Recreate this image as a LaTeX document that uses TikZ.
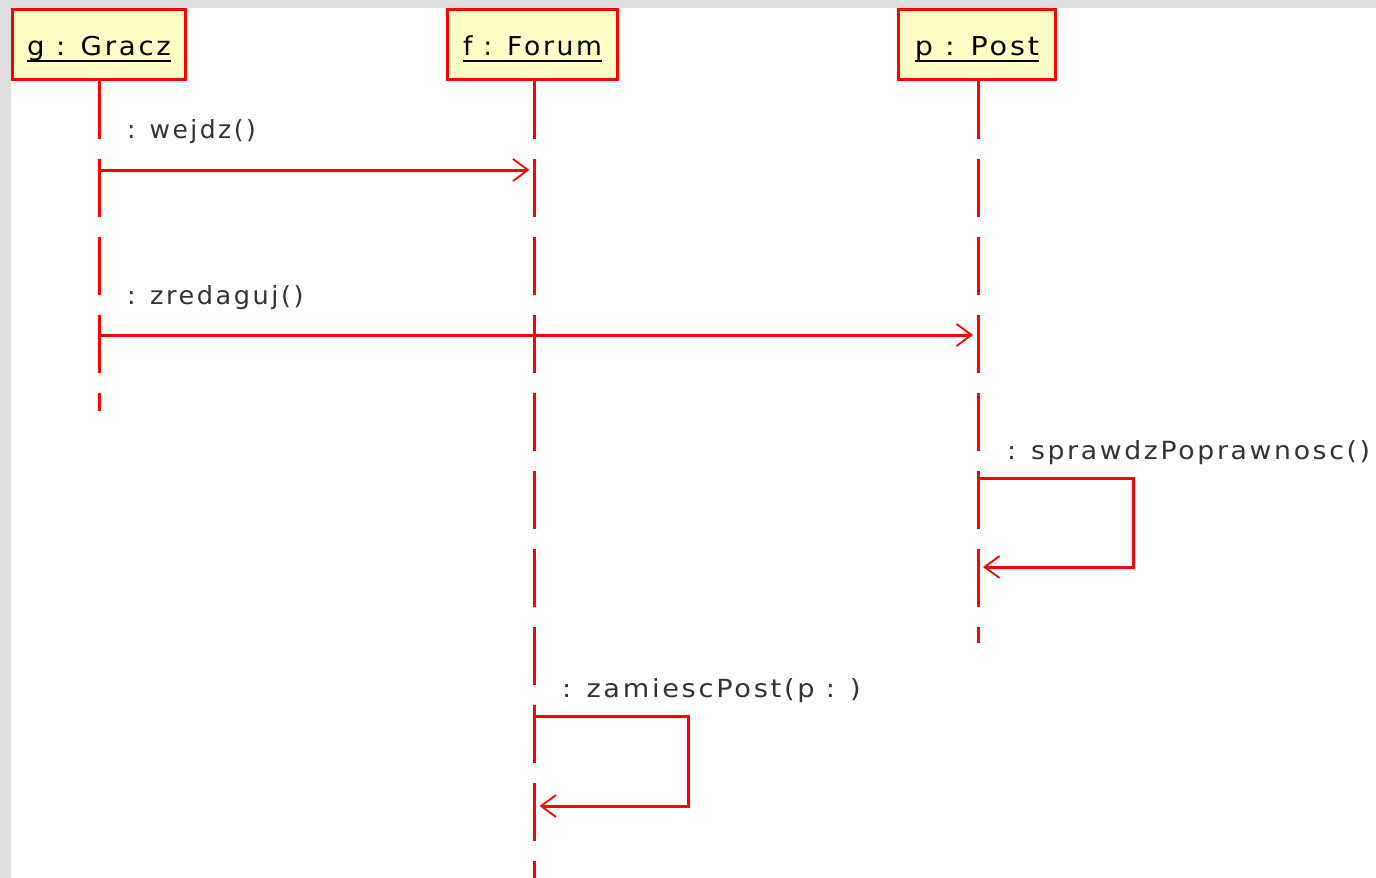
\documentclass[tikz,border=0pt]{standalone}
\usepackage{fontspec}
\setmainfont{DejaVu Sans}
\newfontfamily\umlfont[LetterSpace=10]{DejaVu Sans}
\usetikzlibrary{arrows.meta}
\definecolor{umlred}{RGB}{255,0,0}
\definecolor{umlfill}{RGB}{255,255,198}
\definecolor{umlgray}{RGB}{221,221,221}
\definecolor{umltext}{RGB}{51,51,51}
\newcommand\umlul[1]{\setbox0=\hbox{#1}\rlap{\rule[-7pt]{\wd0}{2.2pt}}\box0}
\begin{document}
\begin{tikzpicture}[x=1pt,y=-1pt,
  obj/.style={draw=umlred, line width=3.2pt, fill=umlfill, minimum height=70pt,
    inner sep=0pt, text height=25pt, text depth=4pt,
    font=\umlfont\fontsize{26}{30}\selectfont, text=black},
  life/.style={draw=umlred, line width=3pt, dash pattern=on 58pt off 20pt},
  msg/.style={draw=umlred, line width=3pt, shorten >=5pt,
    -{Straight Barb[length=15pt,width=22pt,line width=1.8pt]}},
  lbl/.style={anchor=base west, inner sep=0pt, text=umltext,
    font=\umlfont\fontsize{25}{30}\selectfont}]
\fill[umlgray] (0,0) rectangle (1376,878);
\fill[white] (11,8) rectangle (1376,878);
\useasboundingbox (0,0) rectangle (1376,878);
% objects
\node[obj, minimum width=173pt] (g) at (99,44.5) {\scalebox{1.06}[1]{\umlul{g : Gracz}}};
\node[obj, minimum width=170pt] (f) at (532.5,44.5) {\scalebox{1.02}[1]{\umlul{f : Forum}}};
\node[obj, minimum width=157pt] (p) at (977,44.5) {\scalebox{1.1}[1]{\umlul{p : Post}}};
% lifeline ends
\coordinate (gend) at (99,411);
\coordinate (fend) at (534.5,878);
\coordinate (pend) at (978,643);
\draw[life] (g.south) -- (gend);
\draw[life] ([xshift=2pt]f.south) -- (fend);
\draw[life] ([xshift=1pt]p.south) -- (pend);
% message points
\coordinate (m1g) at (99,170);
\coordinate (m1f) at (534.5,170);
\coordinate (m2g) at (99,335);
\coordinate (m2p) at (978,335);
\coordinate (m3a) at (978,478);
\coordinate (m3r) at (1133,478);
\coordinate (m3s) at (1133,567);
\coordinate (m3b) at (978,567);
\coordinate (m4a) at (534.5,716);
\coordinate (m4r) at (688,716);
\coordinate (m4s) at (688,806);
\coordinate (m4b) at (534.5,806);
\draw[msg] (m1g) -- (m1f);
\draw[msg] (m2g) -- (m2p);
\draw[msg] (m3a) -- (m3r) -- (m3s) -- (m3b);
\draw[msg] (m4a) -- (m4r) -- (m4s) -- (m4b);
% labels
\node[lbl] (l1) at (127,138) {: wejdz()};
\node[lbl] (l2) at (127,304) {\scalebox{1.023}[1]{: zredaguj()}};
\node[lbl] (l3) at (1007,459) {\scalebox{1.067}[1]{: sprawdzPoprawnosc()}};
\node[lbl] (l4) at (562,697) {\scalebox{1.087}[1]{: zamiescPost(p : )}};
\end{tikzpicture}
\end{document}
